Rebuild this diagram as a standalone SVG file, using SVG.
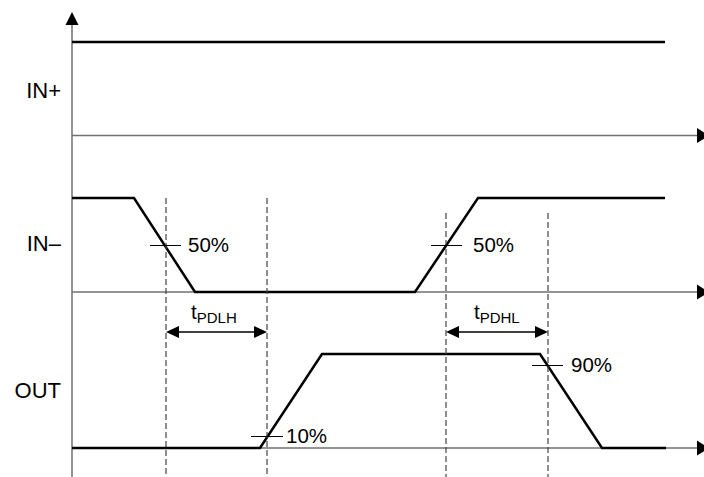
<svg xmlns="http://www.w3.org/2000/svg" width="704" height="477" viewBox="0 0 704 477">
<defs>
<style>
.axis{stroke:#707070;stroke-width:1.5;fill:none}
.sig{stroke:#000;stroke-width:2.5;fill:none;stroke-linejoin:miter}
.dash{stroke:#444;stroke-width:1.2;stroke-dasharray:6,3;fill:none}
.tick{stroke:#000;stroke-width:1;fill:none}
.dim{stroke:#000;stroke-width:1.5;fill:none}
.head{fill:#000}
text{font-family:"Liberation Sans",Arial,sans-serif;fill:#000}
.lbl{font-size:22px}
.pct{font-size:20.5px}
.sub{font-size:15px}
</style>
</defs>
<g id="axes">
<line class="axis" x1="72" y1="22" x2="72" y2="477"/>
<polygon class="head" points="72,12 65.5,25 78.5,25"/>
<line class="axis" x1="72" y1="135.5" x2="698" y2="135.5"/>
<polygon class="head" points="697,128 697,143 709,135.5"/>
<line class="axis" x1="72" y1="292" x2="698" y2="292"/>
<polygon class="head" points="697,284.5 697,299.5 709,292"/>
<line class="axis" x1="72" y1="448" x2="698" y2="448"/>
<polygon class="head" points="697,440.5 697,455.5 709,448"/>
</g>
<g id="labels">
<text class="lbl" x="61" y="98" text-anchor="end">IN+</text>
<text class="lbl" x="61" y="251" text-anchor="end">IN–</text>
<text class="lbl" x="61" y="398" text-anchor="end">OUT</text>
</g>
<g id="signal-in-plus">
<line class="sig" x1="72" y1="42" x2="665" y2="42"/>
</g>
<g id="signal-in-minus">
<polyline class="sig" points="72,198 134,198 195,292 415,292 478,198 665,198"/>
</g>
<g id="signal-out">
<polyline class="sig" points="72,448 260,448 322,354 540,354 602,448 666,448"/>
</g>
<g id="connectors">
<line class="dash" x1="166" y1="198" x2="166" y2="477"/>
<line class="dash" x1="267" y1="198" x2="267" y2="477"/>
<line class="dash" x1="446" y1="213" x2="446" y2="477"/>
<line class="dash" x1="548" y1="213" x2="548" y2="477"/>
<line class="dim" x1="176" y1="332" x2="257" y2="332"/>
<polygon class="head" points="166,332 179,326 179,338"/>
<polygon class="head" points="267,332 254,326 254,338"/>
<line class="dim" x1="456" y1="332" x2="538" y2="332"/>
<polygon class="head" points="446,332 459,326 459,338"/>
<polygon class="head" points="548,332 535,326 535,338"/>
</g>
<g id="markers">
<line class="tick" x1="150" y1="245.5" x2="181" y2="245.5"/>
<text class="pct" x="188" y="252">50%</text>
<line class="tick" x1="431" y1="245.5" x2="462" y2="245.5"/>
<text class="pct" x="473" y="252">50%</text>
<line class="tick" x1="251" y1="436.5" x2="283" y2="436.5"/>
<text class="pct" x="286" y="443">10%</text>
<line class="tick" x1="532" y1="365.5" x2="563" y2="365.5"/>
<text class="pct" x="571" y="372">90%</text>
<text class="pct" x="191" y="319">t<tspan class="sub" dy="3.5">PDLH</tspan></text>
<text class="pct" x="474" y="319">t<tspan class="sub" dy="3.5">PDHL</tspan></text>
</g>
</svg>
